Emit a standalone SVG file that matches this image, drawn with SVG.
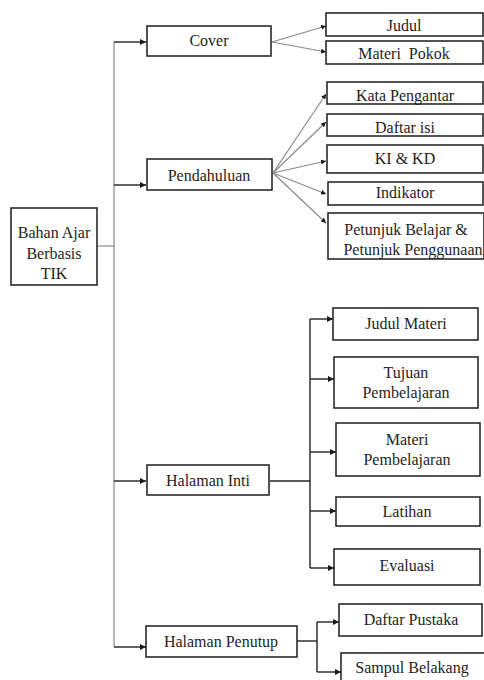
<svg xmlns="http://www.w3.org/2000/svg" width="484" height="680" viewBox="0 0 484 680">
<defs>
<marker id="ah" viewBox="0 0 10 10" refX="10" refY="5" markerWidth="6" markerHeight="6" markerUnits="userSpaceOnUse" orient="auto"><path d="M0,0 L10,5 L0,10 z" fill="#1a1a1a"/></marker>
<marker id="ahs" viewBox="0 0 10 10" refX="10" refY="5" markerWidth="5" markerHeight="5" markerUnits="userSpaceOnUse" orient="auto"><path d="M0,0 L10,5 L0,10 z" fill="#1a1a1a"/></marker>
</defs>
<style>
rect{fill:#fff;stroke:#2a2a2a;stroke-width:1.6}
text{fill:#1e1e1e;text-anchor:middle;white-space:pre}
.d{fill:none;stroke:#222;stroke-width:1.4}
.g{fill:none;stroke:#8a8a8a;stroke-width:1.2}
</style>
<rect x="0" y="0" width="484" height="680" style="fill:#fff;stroke:none"/>
<g id="connectors">
<path class="g" d="M114,42 V647"/>
<path class="g" d="M97,246 H114"/>
<path class="d" d="M114,42 H146" marker-end="url(#ah)"/>
<path class="d" d="M114,185 H146" marker-end="url(#ah)"/>
<path class="d" d="M114,481 H146" marker-end="url(#ah)"/>
<path class="d" d="M114,647 H146" marker-end="url(#ah)"/>
<path class="g" d="M272,42 L326,26" marker-end="url(#ahs)"/>
<path class="g" d="M272,42 L326,52" marker-end="url(#ahs)"/>
<path class="g" d="M273,173 L326,94" marker-end="url(#ahs)"/>
<path class="g" d="M273,173 L326,122" marker-end="url(#ahs)"/>
<path class="g" d="M273,173 L326,161" marker-end="url(#ahs)"/>
<path class="g" d="M273,173 L326,194" marker-end="url(#ahs)"/>
<path class="g" d="M273,173 L326,223" marker-end="url(#ahs)"/>
<path class="d" d="M270,481 H310"/>
<path class="d" d="M310,319 V568"/>
<path class="d" d="M310,319 H333" marker-end="url(#ah)"/>
<path class="d" d="M310,379 H334" marker-end="url(#ah)"/>
<path class="d" d="M310,452 H336" marker-end="url(#ah)"/>
<path class="d" d="M310,511 H336" marker-end="url(#ah)"/>
<path class="d" d="M310,568 H334" marker-end="url(#ah)"/>
<path class="d" d="M297,641 H317"/>
<path class="d" d="M317,622 V672"/>
<path class="d" d="M317,622 H339" marker-end="url(#ah)"/>
<path class="d" d="M317,672 H341" marker-end="url(#ah)"/>
</g>
<g font-family="Liberation Serif" font-size="16">
<g id="bahan-ajar"><rect x="11" y="208" width="86" height="77"/><text x="54" y="238" font-family="Liberation Serif" font-size="16">Bahan Ajar</text><text x="54" y="259" font-family="Liberation Serif" font-size="16">Berbasis</text><text x="54" y="279" font-family="Liberation Serif" font-size="16">TIK</text></g>
<g id="cover"><rect x="147" y="26" width="124" height="30"/><text x="209" y="46" font-family="Liberation Serif" font-size="16">Cover</text></g>
<g id="judul"><rect x="326" y="13" width="157" height="23"/><text x="404" y="31" font-family="Liberation Serif" font-size="16">Judul</text></g>
<g id="materi-pokok"><rect x="326" y="41" width="157" height="23"/><text x="404" y="59" font-family="Liberation Serif" font-size="16">Materi  Pokok</text></g>
<g id="pendahuluan"><rect x="147" y="159" width="125" height="31"/><text x="209" y="181" font-family="Liberation Serif" font-size="16">Pendahuluan</text></g>
<g id="kata-pengantar"><rect x="327" y="82" width="156" height="22"/><text x="405" y="101" font-family="Liberation Serif" font-size="16">Kata Pengantar</text></g>
<g id="daftar-isi"><rect x="327" y="114" width="156" height="22"/><text x="405" y="133" font-family="Liberation Serif" font-size="16">Daftar isi</text></g>
<g id="ki-kd"><rect x="327" y="145" width="156" height="28"/><text x="405" y="164" font-family="Liberation Serif" font-size="16">KI &amp; KD</text></g>
<g id="indikator"><rect x="328" y="182" width="155" height="23"/><text x="405" y="198" font-family="Liberation Serif" font-size="16">Indikator</text></g>
<g id="petunjuk"><rect x="328" y="213" width="156" height="46"/><text x="406" y="235" font-family="Liberation Serif" font-size="16">Petunjuk Belajar &amp;</text><text x="413" y="255" font-family="Liberation Serif" font-size="16">Petunjuk Penggunaan</text></g>
<g id="halaman-inti"><rect x="147" y="465" width="122" height="30"/><text x="208" y="486" font-family="Liberation Serif" font-size="16">Halaman Inti</text></g>
<g id="judul-materi"><rect x="333" y="308" width="145" height="32"/><text x="406" y="329" font-family="Liberation Serif" font-size="16">Judul Materi</text></g>
<g id="tujuan"><rect x="334" y="357" width="144" height="51"/><text x="406" y="378" font-family="Liberation Serif" font-size="16">Tujuan</text><text x="406" y="398" font-family="Liberation Serif" font-size="16">Pembelajaran</text></g>
<g id="materi-pembelajaran"><rect x="336" y="423" width="144" height="53"/><text x="407" y="445" font-family="Liberation Serif" font-size="16">Materi</text><text x="407" y="465" font-family="Liberation Serif" font-size="16">Pembelajaran</text></g>
<g id="latihan"><rect x="336" y="497" width="144" height="29"/><text x="407" y="517" font-family="Liberation Serif" font-size="16">Latihan</text></g>
<g id="evaluasi"><rect x="334" y="549" width="146" height="36"/><text x="407" y="571" font-family="Liberation Serif" font-size="16">Evaluasi</text></g>
<g id="halaman-penutup"><rect x="146" y="626" width="151" height="31"/><text x="221" y="647" font-family="Liberation Serif" font-size="16">Halaman Penutup</text></g>
<g id="daftar-pustaka"><rect x="339" y="604" width="143" height="32"/><text x="411" y="625" font-family="Liberation Serif" font-size="16">Daftar Pustaka</text></g>
<g id="sampul-belakang"><rect x="341" y="653" width="146" height="30"/><text x="412" y="673" font-family="Liberation Serif" font-size="16">Sampul Belakang</text></g>
</g>
</svg>
